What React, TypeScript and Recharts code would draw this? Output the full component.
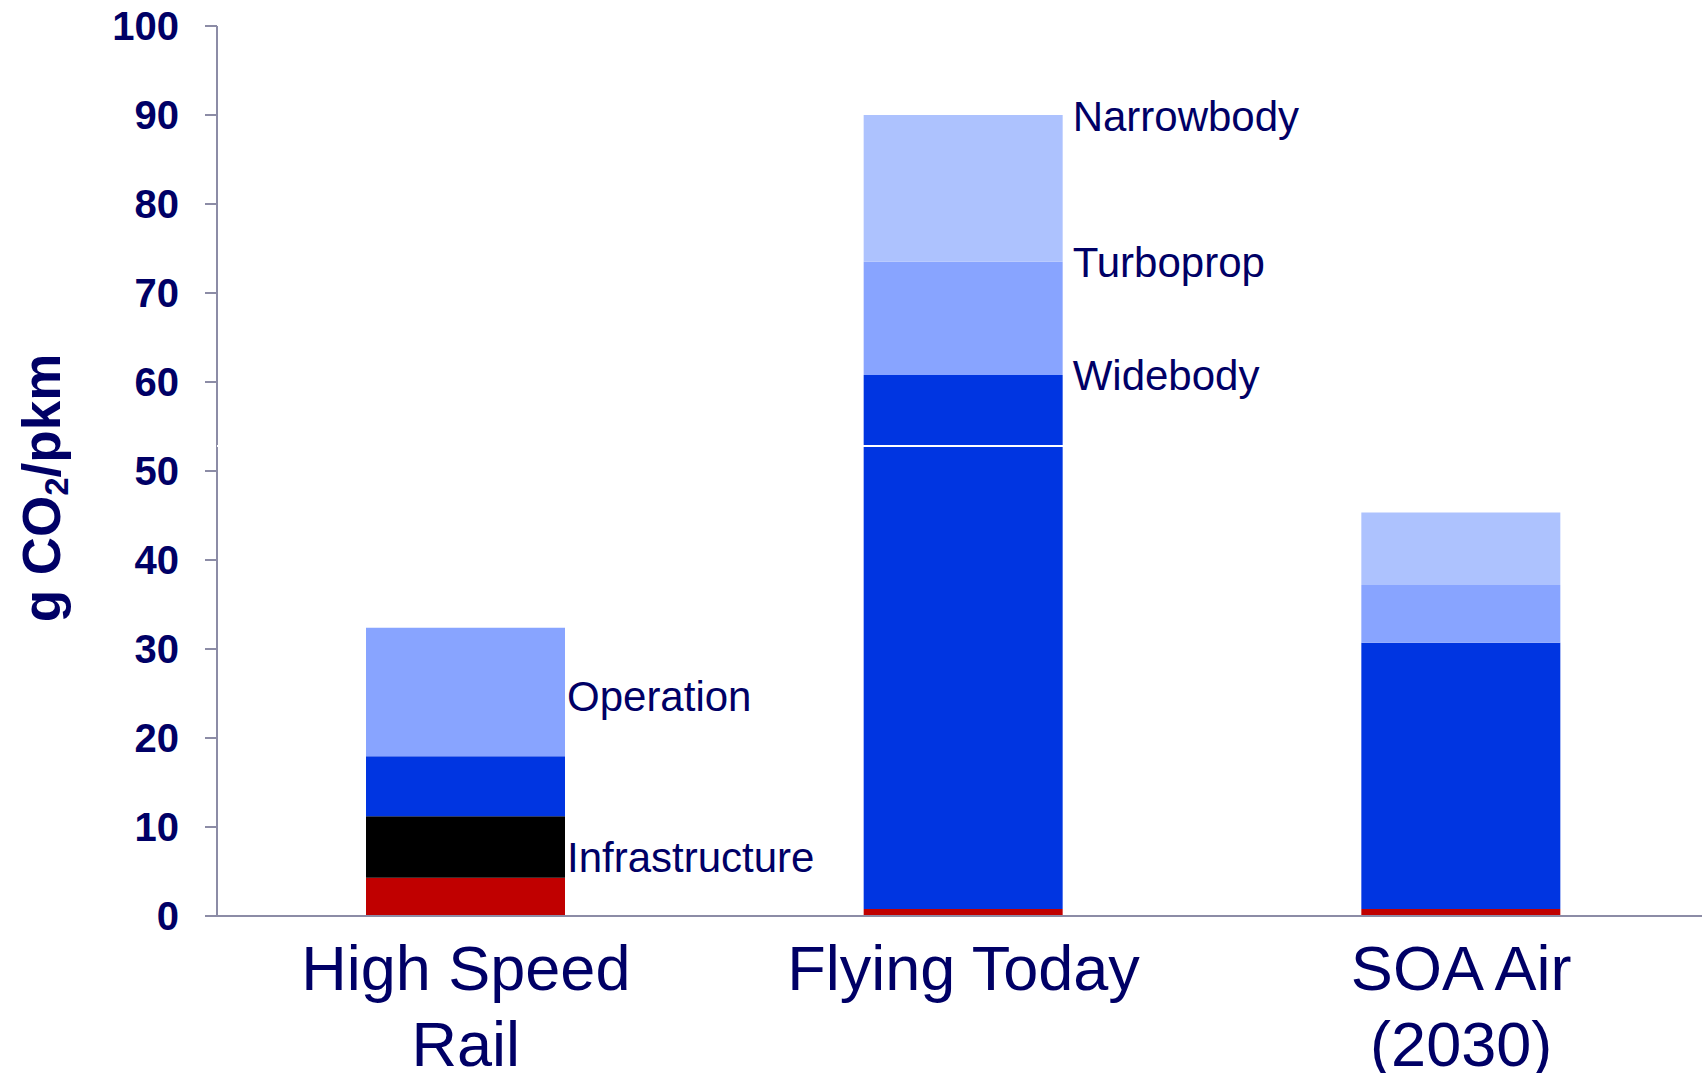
import React from "react";
import { BarChart, Bar, XAxis, YAxis, ReferenceLine, LabelList } from "recharts";

const categories = ["High Speed Rail", "Flying Today", "SOA Air (2030)"];
const categoryLines = [["High Speed", "Rail"], ["Flying Today"], ["SOA Air", "(2030)"]];

// stacked segments, g CO2/pkm
const redSeg = [4.3, 0.8, 0.8];
const blackSeg = [6.9, 0, 0];
const darkSeg = [6.75, 60.0, 29.9];
const mediumSeg = [14.45, 12.7, 6.5];
const lightSeg = [0, 16.5, 8.15];

const blackLabels = ["Infrastructure", "", ""];
const darkLabels = ["", "Widebody", ""];
const mediumLabels = ["Operation", "Turboprop", ""];
const lightLabels = ["", "Narrowbody", ""];

const yTicks = [0, 10, 20, 30, 40, 50, 60, 70, 80, 90, 100];
const boundaryTicks = [0, 1, 2, 3];
const breakValue = 52.8;

const data = categories.map((name, i) => ({
  name,
  red: redSeg[i],
  black: blackSeg[i],
  dark: darkSeg[i],
  medium: mediumSeg[i],
  light: lightSeg[i],
  blackLabel: blackLabels[i],
  darkLabel: darkLabels[i],
  mediumLabel: mediumLabels[i],
  lightLabel: lightLabels[i],
}));

// labels of the rail bar sit in the middle of their segment, the others at its top
const centeredLabels = [blackLabels[0], mediumLabels[0]];

const NAVY = "#000066";
const AXIS = "#8C8CA6";
const FONT = "'Liberation Sans', Arial, sans-serif";
const CAT = "a_cat";
const GRID = "0_grid";

const CategoryTick = (props: any) => {
  const { x, y, index } = props;
  const lines = categoryLines[index] || [];
  return (
    <text x={x} y={y} textAnchor="middle" fill={NAVY} fontSize={63} fontFamily={FONT}>
      {lines.map((l, k) => (
        <tspan key={k} x={x} dy={k === 0 ? 73 : 76}>
          {l}
        </tspan>
      ))}
    </text>
  );
};

const makeSegLabel = (centerOffset: number) => (props: any) => {
  const { x, y, width, height, value } = props;
  if (!value) return null;
  const centered = centeredLabels.includes(value);
  const cy = centered ? y + height / 2 + centerOffset : y + 1;
  const lx = x + width + (centered ? 2 : 10);
  return (
    <text x={lx} y={cy} fill={NAVY} fontSize={42} fontFamily={FONT} dominantBaseline="central">
      {value}
    </text>
  );
};

const YLabel = (props: any) => {
  const vb = props.viewBox || { x: 0, y: 26, width: 217, height: 890 };
  const cx = 60;
  const cy = vb.y + vb.height / 2 + 17;
  return (
    <text
      x={cx}
      y={cy}
      transform={`rotate(-90, ${cx}, ${cy})`}
      textAnchor="middle"
      fill={NAVY}
      fontSize={53}
      fontWeight="bold"
      fontFamily={FONT}
    >
      <tspan x={cx}>g CO</tspan>
      <tspan dy={8} fontSize={33}>2</tspan>
      <tspan dy={-8}>/pkm</tspan>
    </text>
  );
};

export default function App() {
  return (
    <div style={{ position: "absolute", left: 0, top: 0, width: 1712, height: 1073, background: "#fff" }}>
      <style>{`body{margin:0;overflow:hidden;background:#fff}`}</style>
      <BarChart
        width={1712}
        height={1073}
        data={data}
        margin={{ top: 26, right: 2, bottom: 0, left: 0 }}
        barSize={199}
      >
        <XAxis
          xAxisId={GRID}
          type="number"
          domain={[0, 3]}
          ticks={boundaryTicks}
          allowDataOverflow
          tick={false}
          tickSize={8}
          height={1}
          axisLine={{ stroke: AXIS, strokeWidth: 2 }}
          tickLine={{ stroke: AXIS, strokeWidth: 2 }}
        />
        <XAxis
          xAxisId={CAT}
          dataKey="name"
          type="category"
          interval={0}
          axisLine={false}
          tickLine={false}
          tickSize={0}
          tickMargin={0}
          height={156}
          tick={<CategoryTick />}
        />
        <YAxis
          type="number"
          domain={[0, 100]}
          ticks={yTicks}
          interval={0}
          width={217}
          tickSize={12}
          tickMargin={26}
          axisLine={{ stroke: AXIS, strokeWidth: 2 }}
          tickLine={{ stroke: AXIS, strokeWidth: 2 }}
          tick={{ fill: NAVY, fontSize: 40, fontWeight: "bold", fontFamily: FONT }}
          label={{ content: <YLabel /> } as any}
        />
        <Bar xAxisId={CAT} dataKey="red" stackId="a" fill="#C00000" isAnimationActive={false} />
        <Bar xAxisId={CAT} dataKey="black" stackId="a" fill="#000000" isAnimationActive={false}>
          <LabelList dataKey="blackLabel" content={makeSegLabel(10)} />
        </Bar>
        <Bar xAxisId={CAT} dataKey="dark" stackId="a" fill="#0035E1" isAnimationActive={false}>
          <LabelList dataKey="darkLabel" content={makeSegLabel(0)} />
        </Bar>
        <Bar xAxisId={CAT} dataKey="medium" stackId="a" fill="#88A4FF" isAnimationActive={false}>
          <LabelList dataKey="mediumLabel" content={makeSegLabel(5)} />
        </Bar>
        <Bar xAxisId={CAT} dataKey="light" stackId="a" fill="#ADC2FE" isAnimationActive={false}>
          <LabelList dataKey="lightLabel" content={makeSegLabel(0)} />
        </Bar>
        <ReferenceLine
          xAxisId={CAT}
          y={breakValue}
          stroke="#ffffff"
          strokeWidth={2}
          ifOverflow="extendDomain"
          {...({ zIndex: 2000 } as any)}
        />
      </BarChart>
    </div>
  );
}
